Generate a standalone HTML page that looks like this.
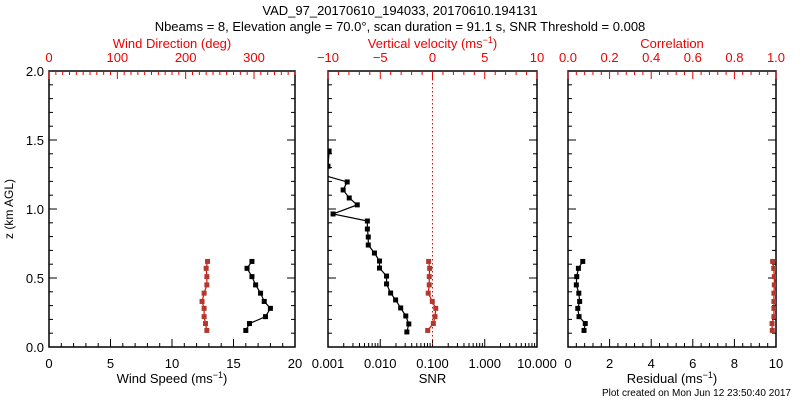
<!DOCTYPE html>
<html><head><meta charset="utf-8"><style>
body{margin:0;background:#fff}
svg{display:block;font-family:"Liberation Sans",sans-serif}
</style></head><body>
<svg id="c" width="800" height="400" xmlns="http://www.w3.org/2000/svg">
<rect width="800" height="400" fill="#fff"/>
<text x="400" y="15" text-anchor="middle" font-size="13">VAD_97_20170610_194033, 20170610.194131</text>
<text x="400" y="31" text-anchor="middle" font-size="13">Nbeams = 8, Elevation angle = 70.0°, scan duration = 91.1 s, SNR Threshold = 0.008</text>
<text x="13" y="209" text-anchor="middle" font-size="12" transform="rotate(-90 13 209)">z (km AGL)</text>
<text x="791" y="396" text-anchor="end" font-size="10">Plot created on Mon Jun 12 23:50:40 2017</text>
<g id="g"></g>
</svg>
<script>
const heights=[0.62,0.57,0.51,0.45,0.39,0.33,0.28,0.22,0.17,0.12];
const windSpeed=[16.5,16.1,16.5,16.8,17.2,17.5,18.0,17.6,16.3,16.0];
const windDir=[232,230,231,231,227,224,227,227,229,231];
const vertVel=[-0.37,-0.27,-0.31,-0.31,-0.41,-0.02,0.31,0.24,0.08,-0.46];
const residual=[0.71,0.50,0.42,0.40,0.52,0.56,0.47,0.53,0.83,0.77];
const correlation=[0.984,0.989,0.992,0.992,0.990,0.990,0.990,0.990,0.981,0.982];
const snrHeights=[1.42,1.31,1.24,1.196,1.138,1.08,1.03,0.964,0.913,0.855,0.797,0.739,0.681,0.623,0.572,0.514,0.457,0.391,0.341,0.283,0.225,0.167,0.109];
const snrValues=[0.00105,0.001,0.0009,0.00233,0.00195,0.00255,0.00363,0.00125,0.00567,0.00567,0.0059,0.0059,0.00774,0.00968,0.00968,0.0132,0.0132,0.0158,0.0197,0.0246,0.0308,0.0352,0.0323];
const yTicks=["0.0","0.5","1.0","1.5","2.0"];
const NS="http://www.w3.org/2000/svg";
const g=document.getElementById('g');
const Y0=347,Y1=71;
const y=v=>Y0-(v/2)*(Y0-Y1);
function el(t,a,p){const e=document.createElementNS(NS,t);for(const k in a)e.setAttribute(k,a[k]);(p||g).appendChild(e);return e;}
const panels=[{x0:49,x1:295},{x0:328,x1:537},{x0:568,x1:776}];
panels.forEach((p,i)=>{
 const r=el('rect',{x:p.x0,y:Y1,width:p.x1-p.x0,height:Y0-Y1,fill:'none',stroke:'#000','stroke-width':1.5});
 
 
 for(let k=0;k<=20;k++){const yy=y(k*0.1);const L=k%5==0?8:4;
  el('line',{x1:p.x0,x2:p.x0+L,y1:yy,y2:yy,stroke:'#000'});
  el('line',{x1:p.x1,x2:p.x1-L,y1:yy,y2:yy,stroke:'#000'});}
});
yTicks.forEach((t,k)=>{const e=el('text',{x:44,y:y(k*0.5)+5,'text-anchor':'end','font-size':13});e.textContent=t;
 
 });
function linAxis(p,min,max,major,minor,top,color,labels,title,fmt){
 const sx=v=>p.x0+(v-min)/(max-min)*(p.x1-p.x0);
 const yy=top?Y1:Y0,d=top?1:-1;
 const n=Math.round((max-min)/minor);
 for(let k=0;k<=n;k++){const v=min+k*minor;const isM=Math.abs(((v-min)/major)-Math.round((v-min)/major))<1e-6;
  el('line',{x1:sx(v),x2:sx(v),y1:yy,y2:yy+d*(isM?8:4),stroke:color});
  if(isM){const t=el('text',{x:sx(v),y:top?62:368,'text-anchor':'middle','font-size':13,fill:color});t.textContent=fmt(v);
   
   }}
 const tt=el('text',{x:(p.x0+p.x1)/2,y:top?48:383,'text-anchor':'middle','font-size':13,fill:color});tt.innerHTML=title;
 
 
 return sx;}
const sup='<tspan dy="-5" font-size="9">−1</tspan><tspan dy="5">)</tspan>';
const sWs=linAxis(panels[0],0,20,5,1,false,'#000',null,'Wind Speed (ms'+sup,v=>String(v));
const sWd=linAxis(panels[0],0,360,100,10,true,'#e00',null,'Wind Direction (deg)',v=>v>350?'':String(v));
const sW=linAxis(panels[1],-10,10,5,1,true,'#e00',null,'Vertical velocity (ms'+sup,v=>(v<0?'−':'')+Math.abs(v));
const sR=linAxis(panels[2],0,10,2,0.4,false,'#000',null,'Residual (ms'+sup,v=>String(Math.round(v)));
const sC=linAxis(panels[2],0,1,0.2,0.04,true,'#e00',null,'Correlation',v=>v.toFixed(1));
// log axis
const P2=panels[1];const sS=v=>P2.x0+(Math.log10(v)+3)/4*(P2.x1-P2.x0);
['0.001','0.010','0.100','1.000','10.000'].forEach((t,k)=>{const v=Math.pow(10,k-3);
 el('line',{x1:sS(v),x2:sS(v),y1:Y0,y2:Y0-8,stroke:'#000'});
 const e=el('text',{x:sS(v),y:368,'text-anchor':'middle','font-size':13});e.textContent=t;
 
 
 if(k<4)for(let m=2;m<10;m++)el('line',{x1:sS(m*v),x2:sS(m*v),y1:Y0,y2:Y0-4,stroke:'#000'});});
{const e=el('text',{x:(P2.x0+P2.x1)/2,y:383,'text-anchor':'middle','font-size':13});e.textContent='SNR';
 
 }
el('line',{x1:sW(0),x2:sW(0),y1:Y1,y2:Y0,stroke:'#e00','stroke-dasharray':'1.5 2.5'});
// clip
const defs=el('defs',{});
panels.forEach((p,i)=>{const c=el('clipPath',{id:'cp'+i},defs);el('rect',{x:p.x0,y:Y1,width:p.x1-p.x0,height:Y0-Y1},c);});
function series(xs,hs,sx,line,mark,name,ci){
 const gg=el('g',{'clip-path':'url(#cp'+ci+')'});
 
 
 el('polyline',{points:xs.map((v,i)=>sx(v)+','+y(hs[i])).join(' '),fill:'none',stroke:line,'stroke-width':1.2},gg);
 xs.forEach((v,i)=>{const m=el('rect',{x:sx(v)-2.5,y:y(hs[i])-2.5,width:5,height:5,fill:mark},gg);
  
  });
}
series(windSpeed,heights,sWs,'#000','#000','wind-speed-series',0);
series(windDir,heights,sWd,'#e00','#b03a2e','wind-direction-series',0);
series(snrValues,snrHeights,sS,'#000','#000','snr-series',1);
series(vertVel,heights,sW,'#e00','#b03a2e','vertical-velocity-series',1);
series(residual,heights,sR,'#000','#000','residual-series',2);
series(correlation,heights,sC,'#e00','#b03a2e','correlation-series',2);
</script>
</body></html>
